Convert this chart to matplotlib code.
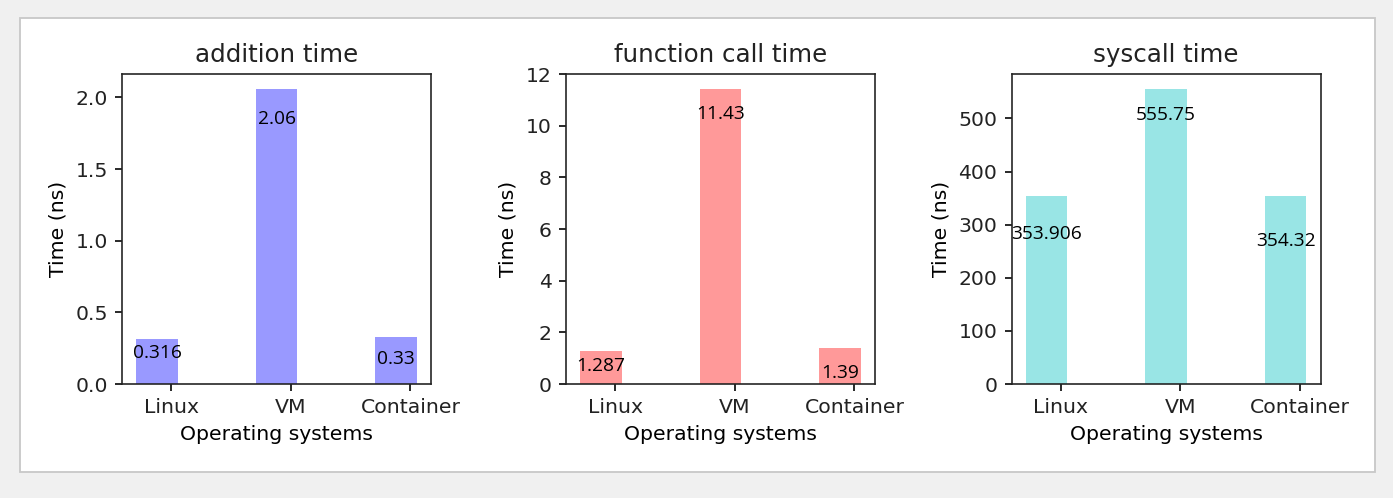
import numpy as np
import matplotlib
matplotlib.use('Agg')
import matplotlib.pyplot as plt
from matplotlib.patches import Rectangle

# data
systems = ['Linux', 'VM', 'Container']
addition_ns = [0.316, 2.06, 0.33]
funccall_ns = [1.287, 11.43, 1.39]
syscall_ns = [353.906, 555.75, 354.32]

titles = ['addition time', 'function call time', 'syscall time']
colors = ['b', 'r', 'c']
# how far (pixels) each value label sits under the top of its bar
label_drop = [[14, 30, 22], [15, 25, 25], [38, 26, 45]]

bar_width = 0.35
tick_shift = 0.12

plt.rcParams['text.color'] = '#222222'
plt.rcParams['xtick.labelcolor'] = '#222222'
plt.rcParams['ytick.labelcolor'] = '#222222'
plt.rcParams['axes.edgecolor'] = '#222222'

fig = plt.figure(figsize=(1393 / 147, 498 / 147), dpi=147, facecolor='#f0f0f0')

# white panel of the screenshot, kept behind the axes
fig.patches.append(Rectangle((20 / 1393, 1 - 472 / 498), 1355 / 1393, 454 / 498,
                             transform=fig.transFigure, facecolor='white',
                             edgecolor='#c8c8c8', linewidth=0.9, zorder=-10))

lefts = [122 / 1393, 566 / 1393, 1011.5 / 1393]
index = np.arange(len(systems))

for i, values in enumerate([addition_ns, funccall_ns, syscall_ns]):
    ax = fig.add_axes([lefts[i], 1 - 384 / 498, 309 / 1393, 310 / 498])
    ax.bar(index, values, bar_width, color=colors[i], alpha=0.4)
    ax.set_xticks(index + tick_shift)
    ax.set_xticklabels(systems)
    ax.set_xlabel('Operating systems')
    ax.set_ylabel('Time (ns)')
    ax.set_title(titles[i])
    for j, v in enumerate(values):
        ax.annotate(str(v), xy=(index[j], v), xytext=(0, -label_drop[i][j]),
                    textcoords='offset pixels', ha='center', va='center',
                    family='Open Sans', fontsize=9.4, color='black')

fig.savefig('out.png', dpi=147, facecolor=fig.get_facecolor())
